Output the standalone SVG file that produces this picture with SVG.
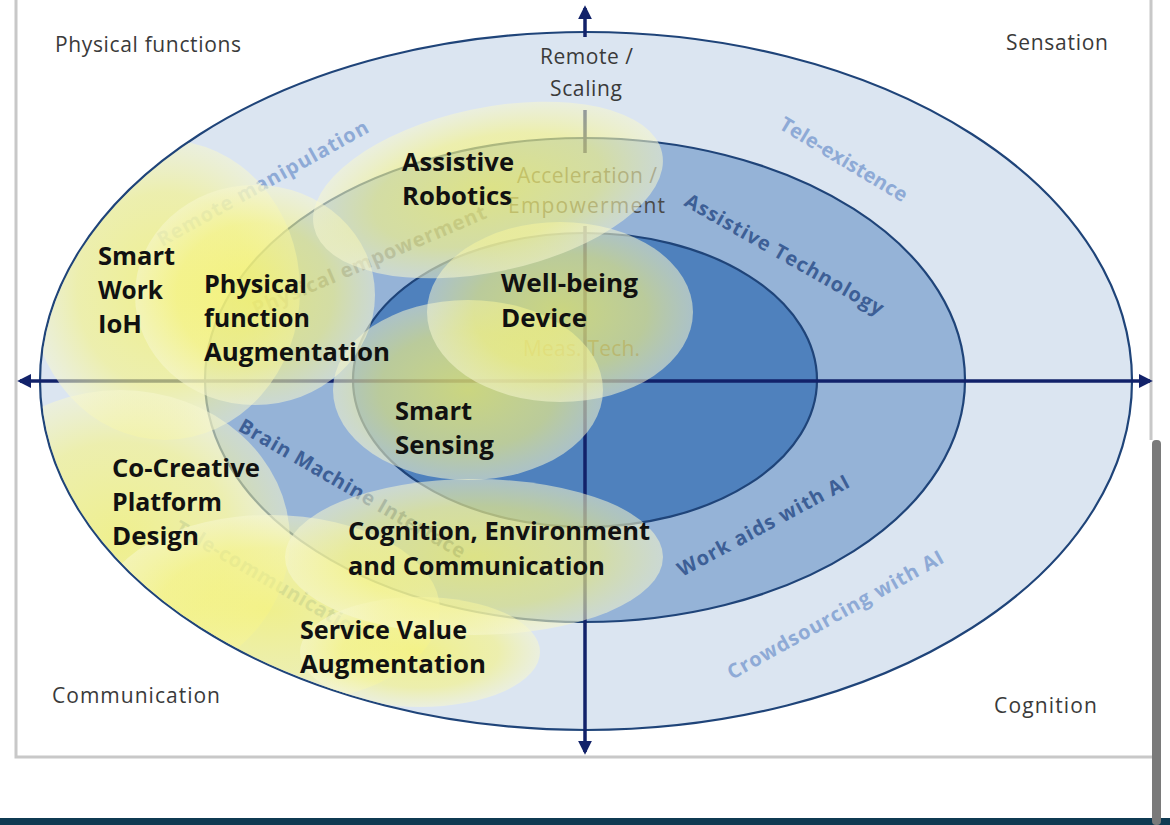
<svg xmlns="http://www.w3.org/2000/svg" width="1170" height="825" viewBox="0 0 1170 825">
<defs>
<style>
.ax{font-family:"Open Sans","Liberation Sans",sans-serif;font-size:21px;fill:#3a3a3a}
.gr{font-family:"Open Sans","Liberation Sans",sans-serif;font-size:21px;fill:#4a4a4a}
.lb{font-family:"Open Sans","Liberation Sans",sans-serif;font-size:25px;font-weight:700;fill:#111}
.rl{font-family:"Open Sans","Liberation Sans",sans-serif;font-size:20px;font-weight:700}
.lt{fill:#8eaad6}
.dk{fill:#3d5f96}
.blob{fill:url(#yg)}
.axis{stroke:#12226a;stroke-width:3.5;fill:none}
.ring{stroke:#1f4479;stroke-width:2.2}
</style>
<radialGradient id="yg" cx="50%" cy="50%" r="50%">
<stop offset="0" stop-color="#f6f36a" stop-opacity="0.74"/>
<stop offset="0.65" stop-color="#f6f488" stop-opacity="0.64"/>
<stop offset="1" stop-color="#f7f7cf" stop-opacity="0.55"/>
</radialGradient>
<clipPath id="oc"><ellipse cx="586" cy="381" rx="545" ry="348"/></clipPath>
<marker id="ah" viewBox="0 0 10 10" refX="8" refY="5" markerWidth="4" markerHeight="4" orient="auto-start-reverse"><path d="M0,0 L10,5 L0,10 z" fill="#12226a"/></marker>
</defs>
<rect x="0" y="0" width="1170" height="825" fill="#ffffff"/>
<g id="frame">
<path d="M16,0 V757 H1152 M1151,0 V440" fill="none" stroke="#c8c8c8" stroke-width="3"/>
<rect x="0" y="818" width="1170" height="7" fill="#0f3a52"/>
<rect x="1152" y="440" width="9" height="385" rx="4" fill="#7a7a7a"/>
</g>
<g id="rings">
<ellipse class="ring" cx="586" cy="381" rx="546" ry="349" fill="#dbe5f1" stroke-width="2.6"/>
<ellipse class="ring" cx="585" cy="380" rx="380" ry="242" fill="#95b3d7"/>
<ellipse class="ring" cx="585" cy="380" rx="232" ry="147" fill="#4f81bd"/>
</g>
<g id="connectors">
<path class="axis" d="M20,381 H1150" marker-start="url(#ah)" marker-end="url(#ah)"/>
<path class="axis" d="M585,37 V8" marker-end="url(#ah)"/>
<path class="axis" d="M585,110 V153"/>
<path class="axis" d="M585,226 V752" marker-end="url(#ah)"/>
</g>
<g id="under-labels">
<text class="rl lt" transform="translate(162,247) rotate(-29)" textLength="238">Remote manipulation</text>
<text class="rl" transform="translate(256,316) rotate(-23)" textLength="252" style="fill:#5f7290">Physical empowerment</text>
<text class="rl dk" transform="translate(237,430) rotate(30)" textLength="258">Brain Machine Interface</text>
<text class="rl lt" transform="translate(173,532) rotate(30)" textLength="216">Tele-communication</text>
<text class="gr" x="517" y="183" textLength="140">Acceleration /</text>
<text class="gr" x="508" y="213" textLength="157">Empowerment</text>
<text class="gr" x="523" y="356" textLength="117">Meas. Tech.</text>
</g>
<g id="areas" clip-path="url(#oc)">
<ellipse class="blob" cx="165" cy="290" rx="135" ry="150"/>
<ellipse class="blob" cx="255" cy="295" rx="120" ry="110"/>
<ellipse class="blob" cx="120" cy="540" rx="170" ry="150"/>
<ellipse class="blob" cx="270" cy="610" rx="170" ry="95"/>
<ellipse class="blob" cx="420" cy="652" rx="120" ry="55"/>
<ellipse class="blob" cx="474" cy="557" rx="189" ry="78"/>
<ellipse class="blob" cx="468" cy="390" rx="135" ry="90"/>
<ellipse class="blob" cx="560" cy="312" rx="133" ry="90"/>
<ellipse class="blob" cx="488" cy="190" rx="178" ry="82" transform="rotate(-12 488 190)"/>
</g>
<g id="quadrants">
<text class="ax" x="55" y="52" textLength="186">Physical functions</text>
<text class="ax" x="1006" y="50" textLength="102">Sensation</text>
<text class="ax" x="52" y="703" textLength="168">Communication</text>
<text class="ax" x="994" y="713" textLength="103">Cognition</text>
<text class="ax" x="540" y="64" textLength="93">Remote /</text>
<text class="ax" x="550" y="96" textLength="72">Scaling</text>
</g>
<g id="ring-labels">
<text class="rl lt" transform="translate(778,128) rotate(31)" textLength="145">Tele-existence</text>
<text class="rl dk" transform="translate(683,205) rotate(29.5)" textLength="225">Assistive Technology</text>
<text class="rl dk" transform="translate(682,577) rotate(-28.2)" textLength="192">Work aids with AI</text>
<text class="rl lt" transform="translate(732,680) rotate(-29)" textLength="244">Crowdsourcing with AI</text>
</g>
<g id="node-assistive-robotics">
<text class="lb" x="402" y="171" textLength="112" lengthAdjust="spacingAndGlyphs">Assistive</text>
<text class="lb" x="402" y="205" textLength="110" lengthAdjust="spacingAndGlyphs">Robotics</text>
</g>
<g id="node-smart-work">
<text class="lb" x="98" y="265" textLength="77" lengthAdjust="spacingAndGlyphs">Smart</text>
<text class="lb" x="98" y="299" textLength="65" lengthAdjust="spacingAndGlyphs">Work</text>
<text class="lb" x="98" y="333" textLength="44" lengthAdjust="spacingAndGlyphs">IoH</text>
</g>
<g id="node-physical-function">
<text class="lb" x="204" y="293" textLength="103" lengthAdjust="spacingAndGlyphs">Physical</text>
<text class="lb" x="204" y="327" textLength="106" lengthAdjust="spacingAndGlyphs">function</text>
<text class="lb" x="204" y="361" textLength="186" lengthAdjust="spacingAndGlyphs">Augmentation</text>
</g>
<g id="node-well-being">
<text class="lb" x="501" y="292" textLength="137" lengthAdjust="spacingAndGlyphs">Well-being</text>
<text class="lb" x="501" y="327" textLength="86" lengthAdjust="spacingAndGlyphs">Device</text>
</g>
<g id="node-smart-sensing">
<text class="lb" x="395" y="420" textLength="77" lengthAdjust="spacingAndGlyphs">Smart</text>
<text class="lb" x="395" y="454" textLength="99" lengthAdjust="spacingAndGlyphs">Sensing</text>
</g>
<g id="node-co-creative">
<text class="lb" x="112" y="477" textLength="148" lengthAdjust="spacingAndGlyphs">Co-Creative</text>
<text class="lb" x="112" y="511" textLength="110" lengthAdjust="spacingAndGlyphs">Platform</text>
<text class="lb" x="112" y="545" textLength="87" lengthAdjust="spacingAndGlyphs">Design</text>
</g>
<g id="node-cognition">
<text class="lb" x="348" y="540" textLength="302" lengthAdjust="spacingAndGlyphs">Cognition, Environment</text>
<text class="lb" x="348" y="575" textLength="257" lengthAdjust="spacingAndGlyphs">and Communication</text>
</g>
<g id="node-service-value">
<text class="lb" x="300" y="639" textLength="167" lengthAdjust="spacingAndGlyphs">Service Value</text>
<text class="lb" x="300" y="673" textLength="186" lengthAdjust="spacingAndGlyphs">Augmentation</text>
</g>
</svg>
